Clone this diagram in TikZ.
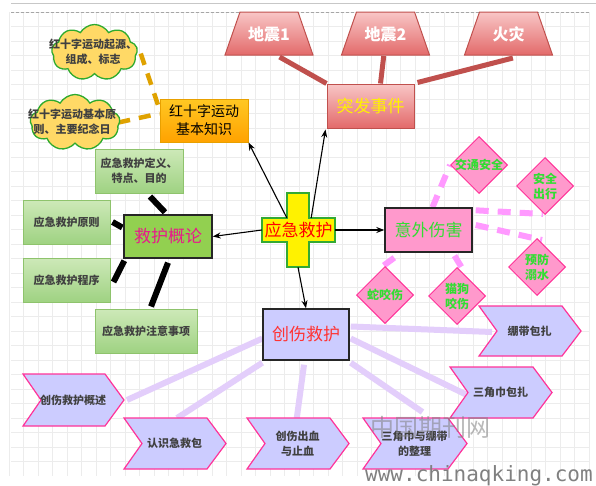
\documentclass[tikz,border=0pt]{standalone}
\usepackage{fontspec}
\setmainfont{Noto Sans CJK SC}
\newfontfamily\wmfont{DejaVu Sans Mono}
\usetikzlibrary{shapes.geometric,shapes.symbols,calc,arrows.meta}
\pgfdeclarelayer{gridlayer}
\pgfdeclarelayer{linelayer}
\pgfsetlayers{gridlayer,linelayer,main}
\definecolor{gridc}{HTML}{ECECEC}
\definecolor{gtop}{HTML}{CDE9B8}
\definecolor{gbot}{HTML}{9FD282}
\definecolor{gborder}{HTML}{8EC36C}
\definecolor{rtop}{HTML}{F8C6C6}
\definecolor{rbot}{HTML}{E36A6A}
\definecolor{redborder}{HTML}{C0504D}
\definecolor{otop}{HTML}{FFC823}
\definecolor{obot}{HTML}{FFA200}
\definecolor{oborder}{HTML}{E8A000}
\definecolor{odash}{HTML}{DFA200}
\definecolor{cloudfill}{HTML}{FFD966}
\definecolor{cloudborder}{HTML}{2EAA2E}
\definecolor{jhfill}{HTML}{92D050}
\definecolor{jhtext}{HTML}{E8198B}
\definecolor{pinkfill}{HTML}{FF99CC}
\definecolor{pinkborder}{HTML}{FF3399}
\definecolor{dgreen}{HTML}{33DD33}
\definecolor{pdash}{HTML}{FF99FF}
\definecolor{lav}{HTML}{CCCCFF}
\definecolor{lavlinec}{HTML}{E3CEFB}
\definecolor{crossborder}{HTML}{33AA33}
\newcommand{\mychev}[6]{%
  \draw[chev] (#2,#3) coordinate (#1-nw) -- ++(#4,0) coordinate (#1-ne)
    -- ++(19,#5/2) coordinate (#1-tip) -- ++(-19,#5/2) coordinate (#1-se)
    -- ++(-#4,0) coordinate (#1-sw) -- ++(18,-#5/2) coordinate (#1-notch) -- cycle;
  \node[chevtxt] (#1) at (#2+#4/2+9,#3+#5/2) {#6};
}
\newcommand{\mytrap}[3]{%
  \draw[trap] (#2-44,55) coordinate (#1-sw) -- (#2-29,12) -- (#2+29,12) -- (#2+44,55) coordinate (#1-se) -- cycle;
  \node[traptxt] (#1) at (#2,34) {#3};
}
\begin{document}
\begin{tikzpicture}[x=1pt,y=-1pt,
 big/.style={font=\fontsize{17}{20}\selectfont},
 mainbox/.style={rectangle, draw=black!85, line width=1.4pt, inner sep=0pt, big},
 greenbox/.style={rectangle, draw=gborder, top color=gtop, bottom color=gbot, line width=1pt, inner sep=0pt, align=center, font=\bfseries\fontsize{11}{15}\selectfont, text=black!75},
 trap/.style={draw=redborder, line width=1pt, top color=rtop, bottom color=rbot},
 traptxt/.style={text=white, font=\bfseries\fontsize{16}{18}\selectfont, inner sep=0pt},
 dia/.style={diamond, minimum width=57pt, minimum height=57pt, inner sep=0pt, fill=pinkfill, draw=pinkborder, line width=1pt},
 dtxt/.style={align=center, text=dgreen, font=\bfseries\fontsize{12}{15}\selectfont, inner sep=0pt},
 chev/.style={fill=lav, draw=pinkborder, line width=1.2pt},
 chevtxt/.style={align=center, font=\bfseries\fontsize{11}{15}\selectfont, text=black!75, inner sep=0pt},
 cloudshape/.style={cloud, cloud puffs=9, cloud puff arc=120, cloud ignores aspect, minimum width=86pt, minimum height=56pt, inner sep=0pt, fill=cloudfill, draw=cloudborder, line width=1.3pt},
 cloudtxt/.style={align=center, font=\bfseries\fontsize{11}{15}\selectfont, text=black!75, inner sep=0pt},
 arr/.style={-{Stealth[length=8pt,width=6pt]}, line width=1.1pt, black},
 redline/.style={line width=5pt, color=redborder},
 blackline/.style={line width=6pt, black},
 orangedash/.style={line width=4.5pt, color=odash, dash pattern=on 12pt off 9pt},
 pinkdash/.style={line width=6pt, color=pdash, dash pattern=on 13pt off 9pt},
 lavline/.style={line width=6pt, color=lavlinec},
]
\useasboundingbox (0,0) rectangle (596,485);
\begin{pgfonlayer}{gridlayer}
  \fill[white] (0,0) rectangle (596,485);
  \foreach \i in {0,...,40} \draw[gridc, line width=0.6pt] (9+\i*14.5,12) -- (9+\i*14.5,476);
  \foreach \j in {0,...,31} \draw[gridc, line width=0.6pt] (11,12+\j*14.5) -- (590,12+\j*14.5);
  \draw[black!22, line width=1.5pt] (11,3.5) -- (596,3.5);
  \draw[black!35, line width=0.6pt, dash pattern=on 3pt off 2pt] (11,12) -- (590,12);
\end{pgfonlayer}

% central cross
\filldraw[fill=yellow, draw=crossborder, line width=1.5pt]
  (287,193) -- (309,193) -- (309,218) -- (335,218) -- (335,242) -- (309,242) -- (309,267)
  -- (287,267) -- (287,242) -- (262,242) -- (262,218) -- (287,218) -- cycle;
\node[minimum width=73pt, minimum height=24pt, inner sep=0pt, text=red, big] (em) at (298.5,230) {应急救护};
\node[minimum width=22pt, minimum height=74pt, inner sep=0pt] (emv) at (298,230) {};

% top group
\node[rectangle, draw=redborder, line width=1pt, top color=rtop, bottom color=rbot, minimum width=87pt, minimum height=44pt, inner sep=0pt, text=yellow, big] (tf) at (370.5,106) {突发事件};
\mytrap{dz1}{269}{地震1}
\mytrap{dz2}{385.5}{地震2}
\mytrap{hz}{508.5}{火灾}

% red cross knowledge
\node[rectangle, draw=oborder, line width=1pt, top color=otop, bottom color=obot, minimum width=88pt, minimum height=43pt, inner sep=0pt, align=center, font=\fontsize{14}{18}\selectfont] (hs) at (204,120.5) {红十字运动\\基本知识};
\node[cloudshape] (c1) at (94.5,52.5) {};
\node[cloudtxt] (c1t) at (93,52) {红十字运动起源、\\组成、标志};
\node[cloudshape, minimum width=90pt] (c2) at (75,122.5) {};
\node[cloudtxt] (c2t) at (72,122) {红十字运动基本原\\则、主要纪念日};

% rescue overview
\node[mainbox, fill=jhfill, minimum width=88pt, minimum height=43pt, text=jhtext] (jh) at (168,236.5) {救护概论};
\node[greenbox, minimum width=88pt, minimum height=44pt] (g1) at (139,171) {应急救护定义、\\特点、目的};
\node[greenbox, minimum width=87pt, minimum height=44pt] (g2) at (66.5,222) {应急救护原则};
\node[greenbox, minimum width=87pt, minimum height=44pt] (g3) at (66.5,280) {应急救护程序};
\node[greenbox, minimum width=102pt, minimum height=44pt] (g4) at (146,331) {应急救护注意事项};

% accidents
\node[mainbox, fill=pinkfill, minimum width=87pt, minimum height=44pt, text=dgreen] (yw) at (428.5,230) {意外伤害};
\node[dia] (d1) at (479,165) {};
\node[dtxt] (d1t) at (d1) {交通安全};
\node[dia] (d2) at (545,186) {};
\node[dtxt] (d2t) at (d2) {安全\\出行};
\node[dia] (d3) at (537,267) {};
\node[dtxt] (d3t) at (d3) {预防\\溺水};
\node[dia] (d4) at (385,295) {};
\node[dtxt] (d4t) at (d4) {蛇咬伤};
\node[dia] (d5) at (457,296) {};
\node[dtxt] (d5t) at (d5) {猫狗\\咬伤};

% trauma
\node[mainbox, fill=lav, minimum width=86pt, minimum height=51pt, text=red!80!white] (cs) at (306,334.5) {创伤救护};
\mychev{bd}{479}{306}{83}{50}{绷带包扎}
\mychev{sj}{450}{367}{83}{51}{三角巾包扎}
\mychev{zl}{363}{418}{85}{51}{三角巾与绷带\\的整理}
\mychev{cx}{247}{418}{83}{51}{创伤出血\\与止血}
\mychev{rs}{124}{418}{83}{51}{认识急救包}
\mychev{gs}{23}{374}{82}{52}{创伤救护概述}

% connectors
\begin{pgfonlayer}{linelayer}
  \draw[redline] ($(dz1-sw)!0.62!(dz1-se)+(0,2)$) -- (tf.north west);
  \draw[redline] ($(dz2-sw)!0.48!(dz2-se)+(0,1)$) -- ($(tf.north)+(10,0)$);
  \draw[redline] ($(hz-sw)!0.55!(hz-se)+(0,3)$) -- ($(tf.north east)+(3,-1)$);
  \draw[orangedash] ($(c1.east)+(3,1)$) -- ($(hs.north west)+(0,11)$);
  \draw[orangedash] ($(c2.east)+(-2,0)$) -- ($(hs.west)+(0,-7)$);
  \draw[blackline] ($(g1.south)+(11,3)$) -- ($(jh.north)+(-3,-2)$);
  \draw[blackline] ($(g2.east)+(2,0)$) -- ($(jh.west)+(-1,-9)$);
  \draw[blackline] ($(g3.east)+(3,2)$) -- ($(jh.south west)+(1,2)$);
  \draw[blackline] ($(g4.north)+(5,-2)$) -- ($(jh.south)+(0,4)$);
  \draw[pinkdash] ($(yw.north)+(4,0)$) -- (d1.west);
  \draw[pinkdash] ($(yw.north east)+(3,3)$) -- ($(d2.south)+(-2,-1)$);
  \draw[pinkdash] ($(yw.east)+(3,-5)$) -- ($(d3.north)+(5,2)$);
  \draw[pinkdash] ($(yw.south west)+(10,5)$) -- ($(d4.north)+(-2,0)$);
  \draw[pinkdash] ($(yw.south)+(26,3)$) -- ($(d5.north)+(5,1)$);
  \draw[lavline] ($(cs.west)+(0,4)$) -- ($(gs-tip)+(3,0)$);
  \draw[lavline] ($(cs.south west)+(0,2)$) -- ($(rs-nw)!0.64!(rs-ne)$);
  \draw[lavline] ($(cs.south)+(-2,4)$) -- ($(cx-nw)!0.6!(cx-ne)$);
  \draw[lavline] ($(cs.south east)+(1,2)$) -- ($(zl-nw)!0.7!(zl-ne)+(0,-6)$);
  \draw[lavline] ($(cs.east)+(1,4)$) -- ($(sj-notch)+(-2,2)$);
  \draw[lavline] ($(cs.east)+(1,-8)$) -- ($(bd-notch)+(-5,1)$);
\end{pgfonlayer}
\draw[arr] (emv.west |- em.north) -- (hs.south east);
\draw[arr] ($(emv.east |- em.north)+(2,0)$) -- ($(tf.south west)+(-1,1)$);
\draw[arr] (em.west) -- (jh.east);
\draw[arr] (em.east) -- (yw.west);
\draw[arr] (emv.south) -- (cs.north);

% watermark
\node[font=\fontsize{24}{24}\selectfont, text=gray, opacity=0.55, inner sep=0pt] (wm1) at (430,427) {中国期刊网};
\node[font=\wmfont\fontsize{21}{21}\selectfont, text=gray, anchor=base west, inner sep=0pt] (wm2) at (365,481) {www.chinaqking.com};
\end{tikzpicture}
\end{document}
